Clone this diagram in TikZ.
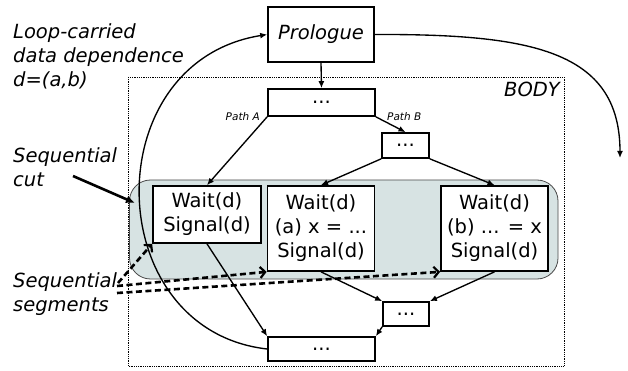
\documentclass[tikz,border=0pt]{standalone}
\usepackage{fontspec}
\setmainfont{DejaVu Sans}
\usetikzlibrary{arrows.meta}
\definecolor{cutfill}{HTML}{D7E3E3}
\definecolor{cutline}{HTML}{4A4A4A}
\tikzset{
  blk/.style={draw, line width=1.7pt, fill=white, inner sep=0pt, align=center,
              font=\fontsize{19.5}{24}\selectfont},
  lbl/.style={inner sep=0pt, font=\fontsize{19.5}{24}\selectfont\itshape},
  pathlbl/.style={inner sep=0pt, font=\fontsize{10.5}{12}\selectfont\itshape},
  flow/.style={line width=1.35pt, -{Latex[length=7pt,width=6pt]}},
  seg/.style={line width=2.6pt, dash pattern=on 6pt off 3.5pt,
              -{Straight Barb[length=5pt,width=11pt,line width=2.2pt]}},
  cutarrow/.style={line width=2.6pt, -{Latex[length=9pt,width=8pt]}},
}
\begin{document}
\begin{tikzpicture}[x=1pt,y=-1pt]
\useasboundingbox (0,0) rectangle (628,371);

% loop body frame and the sequential cut band
\draw[densely dotted, line width=0.8pt] (128,77) rectangle (564,366);
\node[lbl, anchor=base east] (body) at (560,97) {BODY};
\draw[cutline, line width=0.8pt, fill=cutfill, rounded corners=21pt]
  (129.5,180) rectangle (558,279);

% blocks
\node[blk, minimum width=106pt, minimum height=55pt, font=\fontsize{19.5}{24}\selectfont\itshape]
  (pro) at (321,34.5) {Prologue};
\node[blk, minimum width=107pt, minimum height=27pt] (top) at (321.5,102.5) {...};
\node[blk, minimum width=47pt, minimum height=25pt] (pb) at (405.5,145.5) {...};
\node[blk, minimum width=108pt, minimum height=57pt] (w1) at (207,214.5) {Wait(d)\\Signal(d)};
\node[blk, minimum width=107pt, minimum height=85pt] (w2) at (321,228.5) {Wait(d)\\(a) x = ...\\Signal(d)};
\node[blk, minimum width=107pt, minimum height=85pt] (w3) at (494.5,228.5) {Wait(d)\\(b) ... = x\\Signal(d)};
\node[blk, minimum width=46pt, minimum height=24pt] (jn) at (406,314) {...};
\node[blk, minimum width=107pt, minimum height=24pt] (bot) at (321.5,349) {...};

% path labels
\node[pathlbl, anchor=base east] (pa) at (260,121) {Path A};
\node[pathlbl, anchor=base west] (pbl) at (387,121) {Path B};

% control flow
\draw[flow] (pro.south) -- (top.north);
\draw[flow] (top.south west) -- (w1.north);
\draw[flow] (top.south east) -- (pb.north);
\draw[flow] (pb.south west) -- (w2.north);
\draw[flow] (pb.south east) -- (w3.north);
\draw[flow] (w2.south) -- (jn.north west);
\draw[flow] (w3.south) -- (jn.north east);
\draw[flow] (jn.south west) -- (bot.north east);
\draw[flow] (w1.south) -- (bot.north west);

% back edge and loop exit
\draw[flow] (bot.west) .. controls (100,330) and (95,62) .. (pro.west);
\coordinate (exit) at (620,158);
\draw[flow] (pro.east) .. controls (530,34) and (620,50) .. (exit);

% annotations on the left
\node[lbl, anchor=base west] (ld1) at (13,39) {Loop-carried};
\node[lbl, anchor=base west] (ld2) at (13,63) {data dependence};
\node[lbl, anchor=base west] (ld3) at (13,87) {d=(a,b)};
\node[lbl, anchor=base west] (sc1) at (13,163) {Sequential};
\node[lbl, anchor=base west] (sc2) at (13,187) {cut};
\node[lbl, anchor=base west] (ss1) at (13,287) {Sequential};
\node[lbl, anchor=base west] (ss2) at (13,311) {segments};

\coordinate (cs) at (73,176);
\coordinate (ce) at (135,203);
\draw[cutarrow] (cs) -- (ce);

\coordinate (s1) at (118,283);
\coordinate (s2) at (117,286);
\coordinate (s3) at (117,293);
\draw[seg] (s1) -- (w1.south west);
\draw[seg] (s2) -- (w2.south west);
\draw[seg] (s3) -- (w3.south west);
\end{tikzpicture}
\end{document}
